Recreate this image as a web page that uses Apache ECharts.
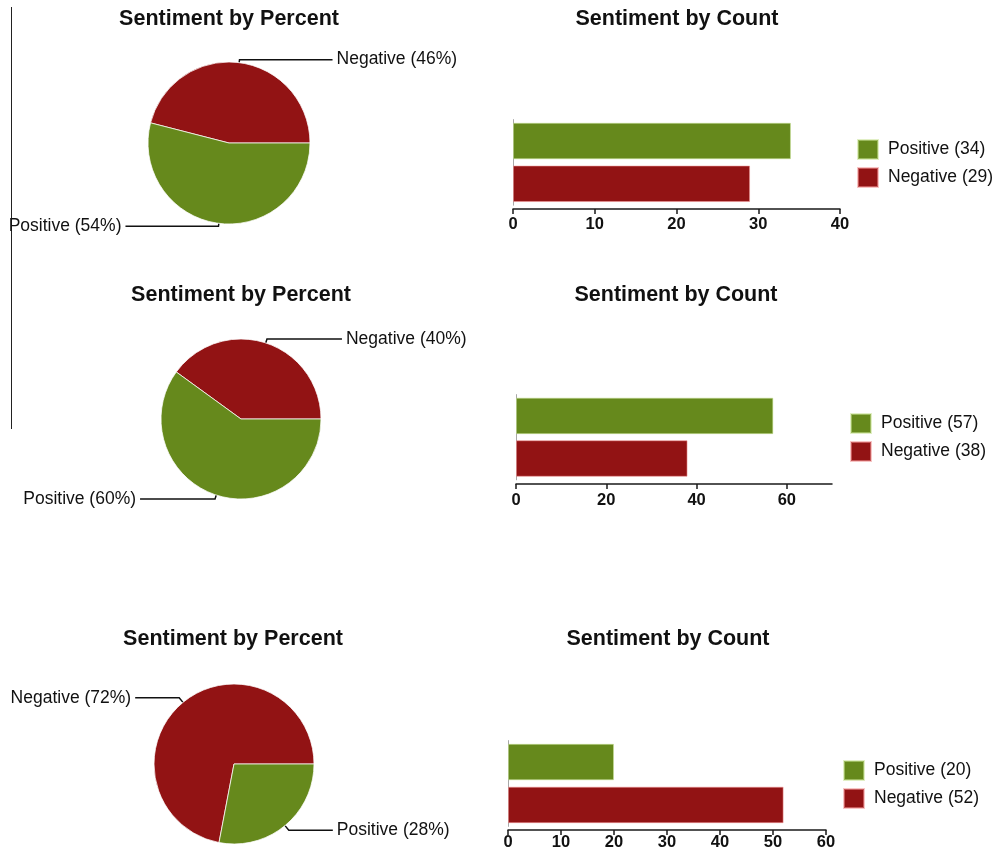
<!DOCTYPE html>
<html>
<head>
<meta charset="utf-8">
<script src="https://cdn.jsdelivr.net/npm/echarts@6/dist/echarts.min.js"></script>
<style>
  html, body { margin: 0; padding: 0; background: #fff; }
  #chart { width: 995px; height: 851px; }
</style>
</head>
<body>
<div id="chart"></div>
<script>
// Sentiment categories (order used by the bar charts, top to bottom)
const sentiments = ['Positive', 'Negative'];

// Panel A
const percentA = [54, 46];
const countA = [34, 29];
const ticksA = [0, 10, 20, 30, 40];

// Panel B
const percentB = [60, 40];
const countB = [57, 38];
const ticksB = [0, 20, 40, 60];
const axisMaxB = 70;

// Panel C
const percentC = [28, 72];
const countC = [20, 52];
const ticksC = [0, 10, 20, 30, 40, 50, 60];

const pieTitle = 'Sentiment by Percent';
const barTitle = 'Sentiment by Count';

const GREEN = '#66891c';
const RED = '#921314';
const FONT = '"Liberation Sans", Arial, Helvetica, sans-serif';

// Layout of each row: pie geometry, bar grid, legend and title anchors
const rows = [
  {
    percent: percentA, count: countA, ticks: ticksA, axisMax: 40,
    pieCenter: [229, 143], pieRadius: 81, line1: 3, line2: 93,
    pieTitle: [229, 19], barTitle: [677, 19],
    grid: { left: 513, top: 119.6, width: 327, height: 85.6 }, axisOffset: 3.8, labelMargin: 7,
    legend: { left: 857, top: 139 }
  },
  {
    percent: percentB, count: countB, ticks: ticksB, axisMax: axisMaxB,
    pieCenter: [241, 419], pieRadius: 80, line1: 4, line2: 75,
    pieTitle: [241, 295], barTitle: [676, 295],
    grid: { left: 516, top: 394.6, width: 316, height: 85.2 }, axisOffset: 4.2, labelMargin: 8,
    legend: { left: 850, top: 413 }
  },
  {
    percent: percentC, count: countC, ticks: ticksC, axisMax: 60,
    pieCenter: [234, 764], pieRadius: 80, line1: 6, line2: 44,
    pieTitle: [233, 639], barTitle: [668, 639],
    grid: { left: 508, top: 740.6, width: 318, height: 85.8 }, axisOffset: 3.6, labelMargin: 4,
    legend: { left: 843, top: 760 }
  }
];

const titles = [];
const grids = [];
const xAxes = [];
const yAxes = [];
const legends = [];
const series = [];

const titleStyle = { fontFamily: FONT, fontSize: 21.5, fontWeight: 'bold', color: '#111' };

rows.forEach((r, i) => {
  titles.push({
    text: pieTitle, left: r.pieTitle[0], top: r.pieTitle[1], padding: 0,
    textAlign: 'center', textVerticalAlign: 'middle', textStyle: titleStyle
  });
  titles.push({
    text: barTitle, left: r.barTitle[0], top: r.barTitle[1], padding: 0,
    textAlign: 'center', textVerticalAlign: 'middle', textStyle: titleStyle
  });

  // Pie: Negative first, sweeping counter-clockwise from 3 o'clock
  series.push({
    type: 'pie',
    center: r.pieCenter,
    radius: r.pieRadius,
    startAngle: 0,
    clockwise: false,
    avoidLabelOverlap: false,
    silent: true,
    animation: false,
    itemStyle: { borderColor: 'rgba(255,255,255,0.75)', borderWidth: 1 },
    label: {
      show: true, position: 'outside', formatter: '{b} ({c}%)',
      fontFamily: FONT, fontSize: 17.5, color: '#111', distanceToLabelLine: 4
    },
    labelLine: {
      show: true, length: r.line1, length2: r.line2, smooth: false,
      lineStyle: { color: '#111', width: 1.5 }
    },
    emphasis: { disabled: true },
    data: [
      { name: sentiments[1], value: r.percent[1], itemStyle: { color: RED } },
      { name: sentiments[0], value: r.percent[0], itemStyle: { color: GREEN } }
    ]
  });

  grids.push(Object.assign({ outerBoundsMode: 'none', containLabel: false }, r.grid));

  xAxes.push({
    gridIndex: i, type: 'value', min: 0, max: r.axisMax,
    interval: r.ticks[1] - r.ticks[0],
    offset: r.axisOffset,
    splitLine: { show: false },
    axisLine: { show: true, lineStyle: { color: '#1a1a1a', width: 1.5 } },
    axisTick: { show: true, length: 5, lineStyle: { color: '#1a1a1a', width: 1.5 }, customValues: r.ticks },
    axisLabel: {
      show: true, margin: r.labelMargin, customValues: r.ticks,
      fontFamily: FONT, fontSize: 16.5, fontWeight: 'bold', color: '#111'
    }
  });
  yAxes.push({
    gridIndex: i, type: 'category', data: sentiments, inverse: true,
    axisLine: { show: true, lineStyle: { color: '#a8a8a8', width: 1 } },
    axisTick: { show: false }, axisLabel: { show: false }, splitLine: { show: false }
  });

  const names = sentiments.map((s, k) => s + ' (' + r.count[k] + ')');
  const colors = [GREEN, RED];
  sentiments.forEach((s, k) => {
    series.push({
      type: 'bar', name: names[k],
      xAxisIndex: i, yAxisIndex: i,
      barWidth: 36.5, barGap: '-100%',
      silent: true, animation: false,
      itemStyle: {
        color: colors[k],
        borderColor: k === 0 ? 'rgba(200,225,150,0.55)' : 'rgba(240,150,150,0.55)',
        borderWidth: 1
      },
      data: sentiments.map((_, j) => (j === k ? r.count[k] : '-'))
    });
  });

  legends.push({
    data: names, orient: 'vertical', left: r.legend.left, top: r.legend.top,
    padding: 0, itemWidth: 20, itemHeight: 19, itemGap: 7, icon: 'rect',
    selectedMode: false,
    textStyle: { fontFamily: FONT, fontSize: 17.5, color: '#111', padding: [0, 0, 0, 5], lineHeight: 19 }
  });
});

const chart = echarts.init(document.getElementById('chart'), null, { renderer: 'canvas' });
chart.setOption({
  backgroundColor: '#ffffff',
  animation: false,
  title: titles,
  grid: grids,
  xAxis: xAxes,
  yAxis: yAxes,
  legend: legends,
  series: series,
  graphic: [{
    type: 'line', silent: true,
    shape: { x1: 11.5, y1: 7, x2: 11.5, y2: 429 },
    style: { stroke: '#222', lineWidth: 1 }
  }]
});
</script>
</body>
</html>
